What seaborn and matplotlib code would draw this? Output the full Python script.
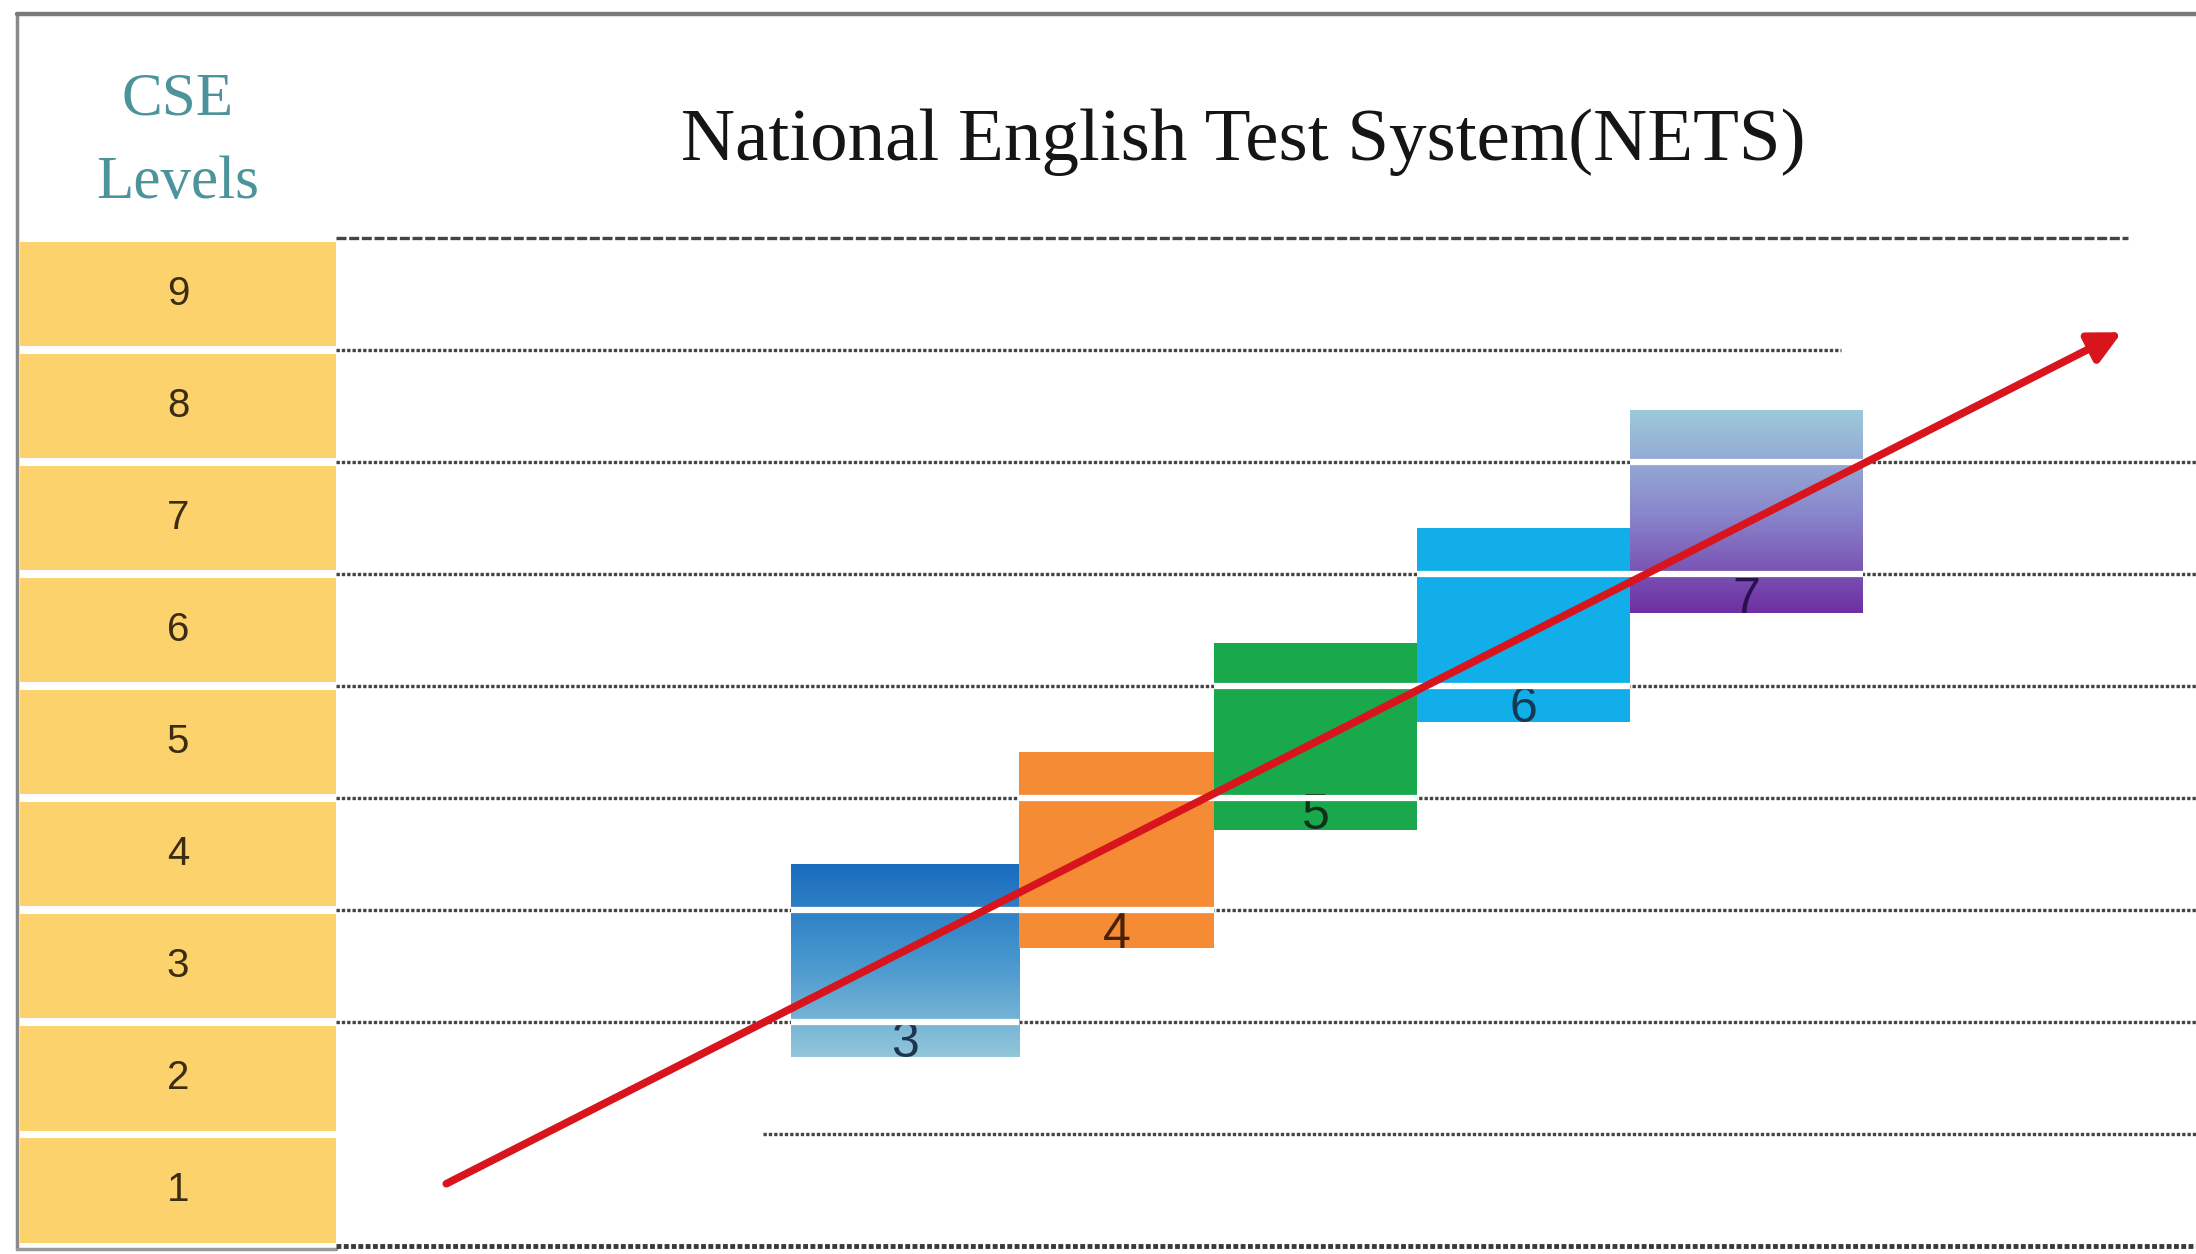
import numpy as np
import matplotlib
matplotlib.use("Agg")
import matplotlib.pyplot as plt
from matplotlib.colors import LinearSegmentedColormap
import seaborn as sns

# CSE scale (left column) and NETS levels (boxes)
cse_levels = [1, 2, 3, 4, 5, 6, 7, 8, 9]
nets_levels = [3, 4, 5, 6, 7]
nets_low = [1.69, 2.66, 3.72, 4.68, 5.65]     # box bottom on CSE scale
nets_high = [3.41, 4.41, 5.39, 6.41, 7.46]    # box top on CSE scale
nets_colors = [
    ["#1a6cbd", "#4797cf", "#92c6da"],
    ["#f58b35"],
    ["#19a84b"],
    ["#12aeea"],
    ["#9ccadb", "#8a88cc", "#6e2fa3"],
]
nets_text = ["#1d3550", "#4a2008", "#10301a", "#123a55", "#2a1050"]

# trend arrow (x in NETS column units, y on CSE scale)
arrow_x = [0.89, 8.71]
arrow_cse = [0.56, 8.16]

# dotted guide lines: CSE boundary, start x, end x
guide_level = [1, 2, 3, 4, 5, 6, 7, 8, 9]
guide_start = [2.37, 0.376, 0.376, 0.376, 0.376, 0.376, 0.376, 0.376, 0.376]
guide_end = [9.1, 9.1, 9.1, 9.1, 9.1, 9.1, 9.1, 7.40, 8.74]

# layout: column edges of the NETS boxes
col_edges = [2.5, 3.565, 4.474, 5.422, 6.415, 7.5]

sns.set_theme(style="white")
plt.rcParams["font.family"] = ["Liberation Sans", "DejaVu Sans"]

fig = plt.figure(figsize=(21.96, 12.54), dpi=100)
ax = fig.add_axes([0, 0, 1, 1])
ax.axis("off")

# frame
ax.plot([-1.114, -1.114], [-0.02, 11.0], color="#8a8a8a", lw=2.5, zorder=1)
ax.plot([-1.114, 9.1], [11.0, 11.0], color="#7a7a7a", lw=3.2, zorder=1)
ax.plot([-1.114, 0.376], [-0.02, -0.02], color="#9a9a9a", lw=2.5, zorder=1)
ax.plot([0.376, 9.1], [0.0, 0.0], color="#3a3a3a", lw=3.5,
        linestyle=(0, (1.0, 0.5)), zorder=1)

# left yellow column
col_left, col_right = -1.101, 0.376
ax.bar([(col_left + col_right) / 2] * len(cse_levels), [0.93] * len(cse_levels),
       bottom=[lv - 1 + 0.035 for lv in cse_levels], width=col_right - col_left,
       color="#fcd26c", edgecolor="none", zorder=2)
for lv in cse_levels:
    ax.text((col_left + col_right) / 2, lv - 0.5, str(lv), ha="center", va="center",
            fontsize=29, color="#3b2c12", zorder=3)
ax.text((col_left + col_right) / 2, 9.86, "CSE\nLevels", ha="center", va="center",
        fontsize=44, color="#4b949c", family=["Liberation Serif"], linespacing=1.65)

# title
ax.text(4.61, 9.86, "National English Test System(NETS)", ha="center", va="center",
        fontsize=54, color="#151515", family=["Liberation Serif"])

# guide lines
for lv, x0, x1 in zip(guide_level, guide_start, guide_end):
    style = (0, (3.0, 0.8)) if lv == 9 else (0, (1.0, 0.6))
    ax.plot([x0, x1], [lv, lv], color="#444444", lw=2.4, linestyle=style, zorder=1)

# NETS boxes
for i, (lv, lo, hi, cols, tc) in enumerate(zip(nets_levels, nets_low, nets_high,
                                               nets_colors, nets_text)):
    x0, x1 = col_edges[i], col_edges[i + 1]
    if len(cols) == 1:
        ax.bar((x0 + x1) / 2, hi - lo, bottom=lo, width=x1 - x0, color=cols[0],
               edgecolor="none", zorder=4)
    else:
        cmap = LinearSegmentedColormap.from_list(f"g{lv}", cols)
        grad = np.linspace(0, 1, 256).reshape(-1, 1)
        ax.imshow(grad, cmap=cmap, extent=[x0, x1, lo, hi], origin="upper",
                  aspect="auto", zorder=4, interpolation="bilinear")
    ax.text((x0 + x1) / 2, lo + 0.12, str(lv), ha="center", va="center", fontsize=36,
            color=tc, zorder=5)
    for b in range(int(np.ceil(lo)), int(np.floor(hi)) + 1):
        ax.plot([x0, x1], [b, b], color="white", lw=4.5, solid_capstyle="butt", zorder=6)

ax.set_xlim(-1.193, 9.056)
ax.set_ylim(-0.067, 11.125)

# trend arrow
ax.annotate("", xy=(arrow_x[1], arrow_cse[1]), xytext=(arrow_x[0], arrow_cse[0]),
            arrowprops=dict(arrowstyle="-|>", color="#d8141c", lw=5.5,
                            mutation_scale=48, shrinkA=0, shrinkB=0),
            zorder=8)

fig.savefig("out.png", dpi=100)
